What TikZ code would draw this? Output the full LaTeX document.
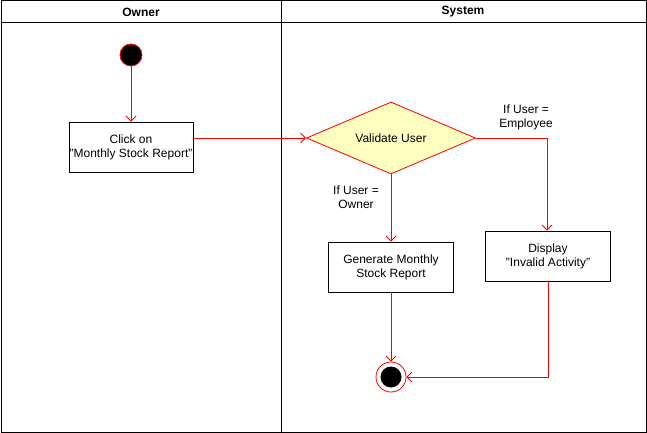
\documentclass[tikz,border=0pt]{standalone}
\usepackage{fontspec}
\setmainfont{Liberation Sans}
\usetikzlibrary{shapes.geometric,arrows.meta}
\definecolor{umlred}{HTML}{FF0000}
\definecolor{decfill}{HTML}{FFFFC0}
\begin{document}
\begin{tikzpicture}[x=1pt,y=-1pt,
  font=\fontsize{12}{14}\selectfont,
  lane/.style={draw=black,line width=1pt},
  actbox/.style={draw=black,fill=white,line width=0.9pt,minimum width=124pt,minimum height=50pt,inner sep=0pt,align=center},
  decision/.style={diamond,draw=umlred,fill=decfill,line width=0.8pt,minimum width=169pt,minimum height=72pt,inner sep=0pt,aspect=2.35},
  flow/.style={draw=umlred,line width=0.8pt,-{Straight Barb[length=5pt,width=10pt]}},
  lbl/.style={align=center,inner sep=0pt}]
\useasboundingbox (0,0) rectangle (647,433);
% swimlanes
\draw[lane] (1,1) rectangle (646,432);
\draw[lane] (1,23) -- (646,23);
\draw[lane] (281,1) -- (281,432);
\node[font=\fontsize{12}{14}\selectfont\bfseries] (hOwner) at (141,12) {Owner};
\node[font=\fontsize{12}{14}\selectfont\bfseries] (hSystem) at (463,12) {System};
% nodes
\node[circle,draw=umlred,fill=black,line width=0.8pt,minimum size=22pt,inner sep=0pt] (start) at (131,55) {};
\node[actbox] (click) at (131,147) {Click on\\"Monthly Stock Report"};
\node[decision] (valid) at (391,138) {Validate User};
\node[actbox,minimum width=125pt] (gen) at (391,267) {Generate Monthly\\Stock Report};
\node[actbox,minimum width=125pt] (disp) at (548,256) {Display\\"Invalid Activity"};
\node[circle,draw=umlred,fill=white,line width=0.8pt,minimum size=30pt,inner sep=0pt] (endn) at (391,377) {};
\node[circle,fill=black,minimum size=21pt,inner sep=0pt] (endin) at (391,377) {};
\coordinate (c1) at (547,138);
\coordinate (c2) at (548,377);
% edges
\draw[flow] (start) -- (click);
\draw[flow] (click.east |- valid.west) -- (valid.west);
\draw[flow] (valid.south) -- (gen.north);
\draw[flow] (valid.east) -- (c1) -- (c1 |- disp.north);
\draw[flow] (gen.south) -- (endn.north);
\draw[flow] (disp.south) -- (c2) -- (endn.east);
% labels
\node[lbl] (lEmp) at (526,117) {If User =\\Employee};
\node[lbl] (lOwn) at (356,197) {If User =\\Owner};
\end{tikzpicture}
\end{document}
